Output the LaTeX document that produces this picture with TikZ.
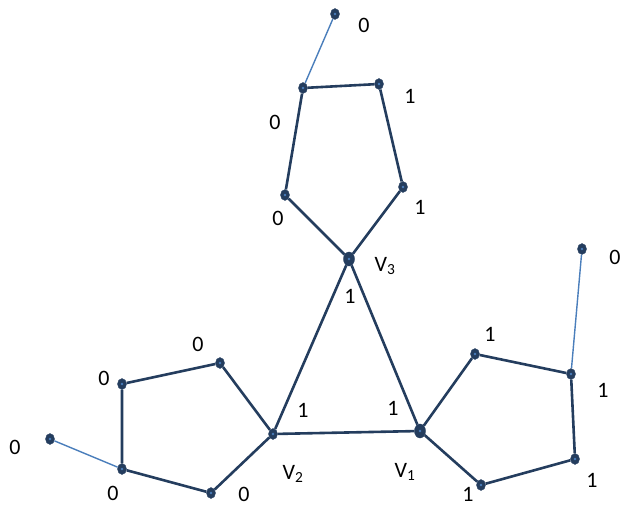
\documentclass[tikz,border=0pt]{standalone}
\usepackage{fontspec}
\setmainfont{Carlito}
\usetikzlibrary{shapes.geometric}
\definecolor{navy}{HTML}{243D5E}
\definecolor{linkblue}{HTML}{4A7EBB}
\begin{document}
\begin{tikzpicture}[x=1pt, y=-1pt,
    vtx/.style={ellipse, draw=navy, fill=navy, inner sep=0pt, minimum width=9pt, minimum height=11pt,
                path picture={\fill[linkblue] (path picture bounding box.center) circle (1.3pt);}},
    big/.style={vtx, minimum width=11pt, minimum height=14pt},
    edge/.style={navy, line width=2.6pt},
    tail/.style={linkblue, line width=1.4pt},
    lab/.style={font=\fontsize{22}{22}\selectfont, inner sep=0pt}]
    \useasboundingbox (0,0) rectangle (622,508);
    % top pentagon
    \node[big] (V3) at (349,259) {};
    \node[vtx] (T1) at (303,88) {};
    \node[vtx] (T2) at (379,84) {};
    \node[vtx] (T3) at (403,187) {};
    \node[vtx] (T4) at (285,195) {};
    \node[vtx] (T0) at (335,14) {};
    % left pentagon
    \node[vtx] (V2) at (273,434) {};
    \node[vtx] (L1) at (220,363) {};
    \node[vtx] (L2) at (122,384) {};
    \node[vtx] (L3) at (122,469) {};
    \node[vtx] (L4) at (211,493) {};
    \node[vtx] (L0) at (50,439) {};
    % right pentagon
    \node[big] (V1) at (420,431) {};
    \node[vtx] (R1) at (475,354) {};
    \node[vtx] (R2) at (571,374) {};
    \node[vtx] (R3) at (575,459) {};
    \node[vtx] (R4) at (481,485) {};
    \node[vtx] (R0) at (582,249) {};
    % connectors
    \draw[tail] (T0) -- (T1);
    \draw[tail] (L0) -- (L3);
    \draw[tail] (R0) -- (R2);
    \draw[edge] (V3) -- (T4) -- (T1) -- (T2) -- (T3) -- (V3);
    \draw[edge] (V2) -- (L1) -- (L2) -- (L3) -- (L4) -- (V2);
    \draw[edge] (V1) -- (R1) -- (R2) -- (R3) -- (R4) -- (V1);
    \draw[edge] (V1) -- (V2) -- (V3) -- (V1);
    % labels
    \node[lab] (t0) at (364,25) {0};
    \node[lab] (t2) at (410,96) {1};
    \node[lab] (t1) at (275,122) {0};
    \node[lab] (t3) at (420,207) {1};
    \node[lab] (t4) at (278,218) {0};
    \node[lab] (v3) at (385,266) {V\textsubscript{3}};
    \node[lab] (v3b) at (350,296) {1};
    \node[lab] (r0) at (615,257) {0};
    \node[lab] (r1) at (490,334) {1};
    \node[lab] (r2) at (603,390) {1};
    \node[lab] (r3) at (592,480) {1};
    \node[lab] (r4) at (468,494) {1};
    \node[lab] (v1b) at (393,408) {1};
    \node[lab] (v1) at (405,472) {V\textsubscript{1}};
    \node[lab] (v2b) at (303,410) {1};
    \node[lab] (v2) at (293,474) {V\textsubscript{2}};
    \node[lab] (l1) at (198,344) {0};
    \node[lab] (l2) at (104,378) {0};
    \node[lab] (l0) at (15,447) {0};
    \node[lab] (l3) at (113,493) {0};
    \node[lab] (l4) at (244,494) {0};
\end{tikzpicture}
\end{document}
